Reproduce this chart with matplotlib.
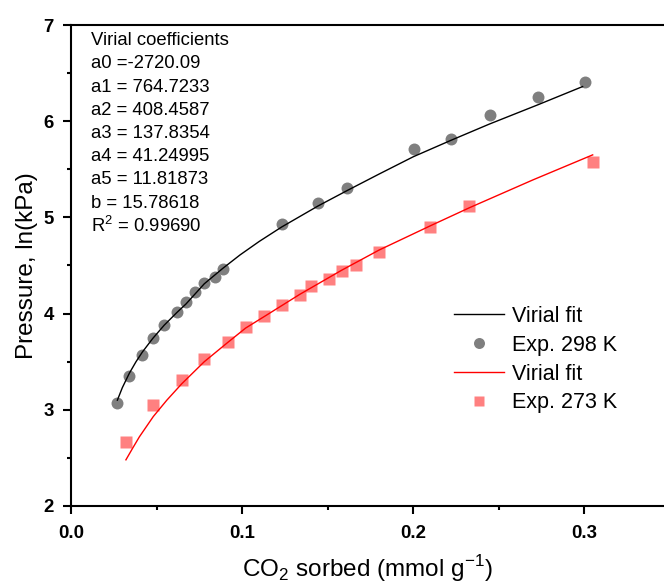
import matplotlib
matplotlib.use("Agg")
import matplotlib.pyplot as plt
from matplotlib.ticker import MultipleLocator, FormatStrFormatter

plt.rcParams['font.family'] = ['Liberation Sans', 'DejaVu Sans']
plt.rcParams['mathtext.fontset'] = 'custom'
plt.rcParams['mathtext.rm'] = 'Liberation Sans'

# Experimental data, 298 K
x298 = [0.0267, 0.0341, 0.0417, 0.0477, 0.0545, 0.0618, 0.0672, 0.0725, 0.0779, 0.0842,
        0.0887, 0.1231, 0.1445, 0.1615, 0.2003, 0.2219, 0.2448, 0.2731, 0.3002]
y298 = [3.074, 3.354, 3.570, 3.746, 3.882, 4.013, 4.124, 4.221, 4.315, 4.384,
        4.464, 4.931, 5.147, 5.309, 5.708, 5.815, 6.061, 6.252, 6.404]

# Experimental data, 273 K
x273 = [0.0321, 0.0481, 0.0647, 0.0779, 0.0916, 0.1021, 0.1130, 0.1235, 0.1337, 0.1403,
        0.1510, 0.1581, 0.1663, 0.1800, 0.2097, 0.2328, 0.3053]
y273 = [2.668, 3.047, 3.310, 3.525, 3.705, 3.856, 3.978, 4.092, 4.196, 4.284,
        4.363, 4.440, 4.508, 4.637, 4.903, 5.119, 5.573]

# Virial fit curves
xfit298 = [0.0271, 0.0300, 0.0341, 0.0380, 0.0417, 0.0477, 0.0545, 0.0618, 0.0672, 0.0779,
           0.0887, 0.0988, 0.1100, 0.1231, 0.1445, 0.1615, 0.1800, 0.2000, 0.2219, 0.2445,
           0.2728, 0.2990]
yfit298 = [3.10, 3.23, 3.38, 3.50, 3.60, 3.74, 3.88, 4.01, 4.10, 4.31,
           4.47, 4.61, 4.75, 4.90, 5.12, 5.28, 5.45, 5.63, 5.80, 5.97,
           6.17, 6.36]
xfit273 = [0.0321, 0.0360, 0.0400, 0.0481, 0.0560, 0.0647, 0.0779, 0.0916, 0.1021, 0.1130,
           0.1337, 0.1581, 0.1800, 0.2097, 0.2328, 0.2700, 0.3049]
yfit273 = [2.48, 2.60, 2.72, 2.93, 3.10, 3.27, 3.50, 3.70, 3.85, 3.97,
           4.20, 4.45, 4.66, 4.91, 5.10, 5.39, 5.65]

coef_lines = ["Virial coefficients", "a0 =-2720.09", "a1 = 764.7233", "a2 = 408.4587",
              "a3 = 137.8354", "a4 = 41.24995", "a5 = 11.81873", "b = 15.78618",
              r"R$^2$ = 0.99690"]

W, H = 664, 587
fig = plt.figure(figsize=(W / 100, H / 100), dpi=100)
x0, x1, ytop, ybot = 71, 664, 25, 506
ax = fig.add_axes([x0 / W, 1 - ybot / H, (x1 - x0) / W, (ybot - ytop) / H])

ax.plot(xfit298, yfit298, color='black', lw=1.0, label='Virial fit', zorder=3)
ax.plot(x298, y298, 'o', color='#7f7f7f', ms=8.6, mec='none', label='Exp. 298 K', zorder=2)
ax.plot(xfit273, yfit273, color='#ff0000', lw=1.0, label='Virial fit', zorder=3)
ax.plot(x273, y273, 's', color='#ff8080', ms=8.0, mec='none', label='Exp. 273 K', zorder=2)

ax.set_xlim(0, (x1 - x0) / 1711.0)
ax.set_ylim(2, 7)
ax.spines['right'].set_visible(False)
for s in ['left', 'bottom', 'top']:
    ax.spines[s].set_linewidth(1.5)

ax.xaxis.set_major_locator(MultipleLocator(0.1))
ax.xaxis.set_minor_locator(MultipleLocator(0.05))
ax.yaxis.set_major_locator(MultipleLocator(1))
ax.yaxis.set_minor_locator(MultipleLocator(0.5))
ax.xaxis.set_major_formatter(FormatStrFormatter('%.1f'))
ax.yaxis.set_major_formatter(FormatStrFormatter('%d'))
ax.tick_params(which='both', direction='out', top=False, right=False, width=1.5)
ax.tick_params(which='major', length=6, labelsize=13.4)
ax.tick_params(axis='x', which='major', pad=8)
ax.tick_params(axis='y', which='major', pad=6.5)
ax.tick_params(which='minor', length=3)
for lab in ax.get_xticklabels() + ax.get_yticklabels():
    lab.set_fontweight('bold')

ax.set_xlabel(r'CO$_2$ sorbed (mmol g$^{-1}$)', fontsize=17.5, labelpad=8)
ax.set_ylabel('Pressure, ln(kPa)', fontsize=17.5, labelpad=4)

# coefficient block
tx = 90.7
for i, line in enumerate(coef_lines):
    ypix = 40.7 + i * 23.2
    fig.text(tx / W, 1 - ypix / H, line, fontsize=13.3, ha='left', va='center')

leg = ax.legend(loc='upper left', bbox_to_anchor=((454 - x0) / (x1 - x0), (ybot - 306) / (ybot - ytop)),
                frameon=False, fontsize=15.5, handlelength=2.3, handletextpad=0.4,
                labelspacing=0.36, borderaxespad=0, borderpad=0, markerscale=0.92)

fig.savefig('out.png', dpi=100)
